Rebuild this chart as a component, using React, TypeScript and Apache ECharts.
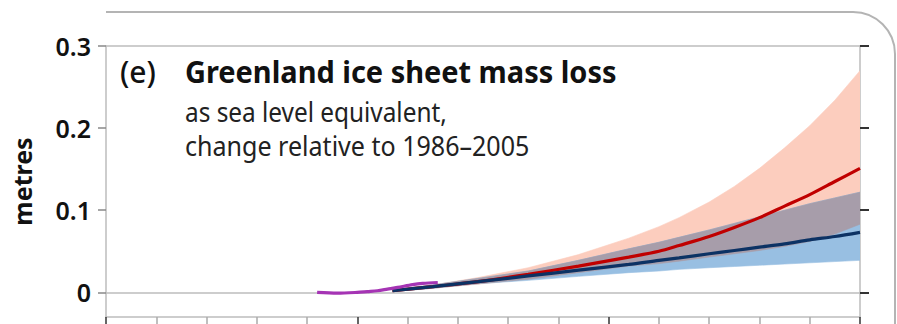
import React, { useEffect, useRef } from "react";
import * as echarts from "echarts";

// Projection years (shared by both scenarios)
const years = [2007, 2015, 2024, 2034, 2044, 2054, 2060, 2064, 2070, 2075, 2080, 2085, 2090, 2095, 2100];

// RCP2.6 median and likely range (metres sea level equivalent)
const rcp26Median = [0.002, 0.007, 0.013, 0.020, 0.027, 0.034, 0.039, 0.042, 0.047, 0.051, 0.055, 0.059, 0.064, 0.068, 0.073];
const rcp26Low = [0.001, 0.005, 0.0105, 0.0146, 0.0195, 0.024, 0.026, 0.028, 0.030, 0.0315, 0.033, 0.0345, 0.036, 0.0375, 0.039];
const rcp26High = [0.003, 0.009, 0.017, 0.026, 0.039, 0.053, 0.061, 0.067, 0.076, 0.084, 0.092, 0.100, 0.108, 0.115, 0.122];

// RCP8.5 median and likely range (metres sea level equivalent)
const rcp85Median = [0.002, 0.007, 0.013, 0.022, 0.032, 0.043, 0.050, 0.057, 0.068, 0.079, 0.091, 0.105, 0.119, 0.135, 0.151];
const rcp85Low = [0.001, 0.005, 0.010, 0.016, 0.024, 0.032, 0.035, 0.038, 0.043, 0.047, 0.051, 0.056, 0.062, 0.071, 0.083];
const rcp85High = [0.003, 0.009, 0.018, 0.030, 0.046, 0.066, 0.080, 0.091, 0.110, 0.129, 0.151, 0.176, 0.203, 0.234, 0.270];

// Observed mass loss
const obsYears = [1992, 1996, 2000, 2002, 2004, 2006, 2008, 2011, 2013, 2016];
const obsValues = [0.0, -0.001, 0.0, 0.001, 0.002, 0.004, 0.006, 0.0095, 0.011, 0.012];

// Axis ticks
const yTicks = [0, 0.1, 0.2, 0.3];

const FONT = "'Noto Sans', sans-serif";

const pairs = (xs: number[], ys: number[]) => xs.map((x, i) => [x, ys[i]]);

// A shaded range between two curves, drawn as one polygon in data coordinates
function band(name: string, lower: number[], upper: number[], color: string, z: number) {
  return {
    type: "custom",
    name,
    z,
    silent: true,
    clip: true,
    data: [[years[0], lower[0]]],
    renderItem: (_params: any, api: any) => {
      const top = years.map((y, i) => api.coord([y, upper[i]]));
      const bottom = years.map((y, i) => api.coord([y, lower[i]])).reverse();
      return {
        type: "polygon",
        shape: { points: top.concat(bottom) },
        style: { fill: color, stroke: color, lineWidth: 0.6 },
      };
    },
  };
}

export default function App() {
  const ref = useRef<HTMLDivElement>(null);

  useEffect(() => {
    if (!ref.current) return;
    const chart = echarts.init(ref.current, undefined, { renderer: "svg" });

    const overlapLow = rcp26Low.map((v, i) => Math.max(v, rcp85Low[i]));
    const overlapHigh = rcp26High.map((v, i) => Math.min(v, rcp85High[i]));

    const frame = "#b4b4b4";

    chart.setOption({
      animation: false,
      backgroundColor: "#ffffff",
      grid: { left: 106, right: 37, top: 46, bottom: 7, containLabel: false },
      xAxis: {
        type: "value",
        min: 1950,
        max: 2100,
        interval: 50,
        axisLine: { show: true, onZero: false, lineStyle: { color: "#bdbdbd", width: 1.5 } },
        axisTick: { show: true, length: 10, lineStyle: { color: "#333", width: 1.5 } },
        minorTick: { show: true, splitNumber: 5, length: 10, lineStyle: { color: "#aaa", width: 1.5 } },
        axisLabel: { show: false },
        splitLine: { show: false },
      },
      yAxis: [
        {
          type: "value",
          min: -0.03,
          max: 0.3,
          position: "left",
          name: "metres",
          nameLocation: "middle",
          nameRotate: 90,
          nameGap: 72,
          nameTextStyle: { fontFamily: FONT, fontSize: 25, fontWeight: "bold", color: "#111" },
          axisLine: { show: true, lineStyle: { color: "#bdbdbd", width: 1.5 } },
          axisTick: { show: true, length: 8, customValues: yTicks, lineStyle: { color: "#888", width: 1.5 } },
          axisLabel: {
            customValues: yTicks,
            margin: 15,
            fontFamily: FONT,
            fontSize: 25,
            fontWeight: 600,
            color: "#111",
            formatter: (v: number) => (v === 0 ? "0" : v.toFixed(1)),
          },
          splitLine: { show: false },
        },
        {
          type: "value",
          min: -0.03,
          max: 0.3,
          position: "right",
          axisLine: { show: true, lineStyle: { color: "#bdbdbd", width: 1.5 } },
          axisTick: { show: true, length: 9, customValues: yTicks, lineStyle: { color: "#333", width: 2 } },
          axisLabel: { show: false },
          splitLine: { show: false },
        },
      ],
      series: [
        band("RCP8.5 likely range", rcp85Low, rcp85High, "#fccdbe", 2),
        band("RCP2.6 likely range", rcp26Low, rcp26High, "#98bfe2", 3),
        band("Overlap", overlapLow, overlapHigh, "#a79daa", 4),
        {
          type: "line",
          name: "RCP8.5",
          z: 6,
          data: pairs(years, rcp85Median),
          smooth: 0.3,
          symbol: "none",
          lineStyle: { color: "#c00000", width: 3.2 },
        },
        {
          type: "line",
          name: "RCP2.6",
          z: 7,
          data: pairs(years, rcp26Median),
          smooth: 0.3,
          symbol: "none",
          lineStyle: { color: "#0c3264", width: 3.2 },
        },
        {
          type: "line",
          name: "Observed",
          data: pairs(obsYears, obsValues),
          smooth: 0.3,
          symbol: "none",
          z: 8,
          lineStyle: { color: "#a534b4", width: 3.2 },
          markLine: {
            silent: true,
            symbol: "none",
            label: { show: false },
            lineStyle: { color: "#bdbdbd", width: 1.5, type: "solid" },
            data: [{ yAxis: 0 }, { yAxis: 0.3 }],
            z: 1,
          },
        },
      ],
      graphic: [
        // panel frame with rounded top-right corner
        { type: "line", shape: { x1: 106, y1: 12, x2: 853, y2: 12 }, style: { stroke: frame, lineWidth: 2 } },
        {
          type: "arc",
          shape: { cx: 853, cy: 54, r: 42, startAngle: -Math.PI / 2, endAngle: 0, clockwise: true },
          style: { stroke: frame, lineWidth: 2, fill: "none" },
        },
        { type: "line", shape: { x1: 895, y1: 54, x2: 895, y2: 324 }, style: { stroke: frame, lineWidth: 2 } },
        // panel heading
        {
          type: "text",
          x: 120,
          y: 86,
          style: { text: "(e)", fontFamily: FONT, fontSize: 30, fontWeight: 500, fill: "#111", verticalAlign: "bottom" },
        },
        {
          type: "text",
          x: 185,
          y: 86,
          scaleX: 0.965,
          style: {
            text: "Greenland ice sheet mass loss",
            fontFamily: FONT,
            fontSize: 30,
            fontWeight: "bold",
            fill: "#111",
            verticalAlign: "bottom",
          },
        },
        {
          type: "text",
          x: 185,
          y: 125,
          scaleX: 0.87,
          style: {
            text: "as sea level equivalent,",
            fontFamily: FONT,
            fontSize: 28,
            fill: "#222",
            verticalAlign: "bottom",
          },
        },
        {
          type: "text",
          x: 185,
          y: 159,
          scaleX: 0.895,
          style: {
            text: "change relative to 1986\u20132005",
            fontFamily: FONT,
            fontSize: 28,
            fill: "#222",
            verticalAlign: "bottom",
          },
        },
      ],
    });

    return () => chart.dispose();
  }, []);

  return (
    <div
      ref={ref}
      style={{ position: "fixed", left: 0, top: 0, width: 897, height: 324, background: "#fff" }}
    />
  );
}
